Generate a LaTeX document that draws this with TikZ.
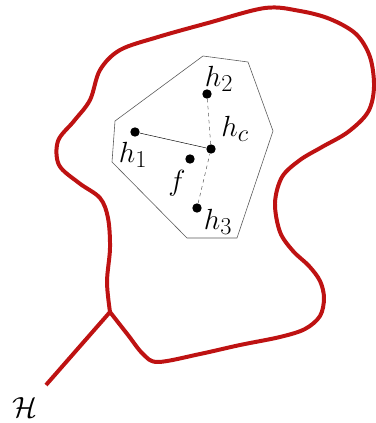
\documentclass[tikz,border=0pt]{standalone}
\usepackage{amsmath,amssymb}
\usetikzlibrary{positioning,calc}
\definecolor{hypRed}{RGB}{190,18,18}
\begin{document}
\begin{tikzpicture}[x=0.03cm,y=-0.03cm]
        \useasboundingbox (0,0) rectangle (376,423);
        \tikzset{pt/.style={circle,fill=black,inner sep=0pt,minimum size=8pt},
          lab/.style={font=\Huge,inner sep=0pt}}
        % Hypothesis space
        \coordinate (j) at (110,312);
        \coordinate (t) at (46,385);
        \draw[hypRed,line width=3.4pt,line join=round] plot[smooth,tension=0.55] coordinates {
          (110,312) (128,335) (143,354) (158,362) (200,354) (240,345) (280,337)
          (305,329) (320,316) (324,298) (320,281) (309,266) (293,251) (280,232)
          (275,203) (282,177) (300,160) (322,147) (348,132) (368,112) (374,87)
          (370,57) (356,34) (330,19) (300,11) (265,8) (208,23) (158,37) (120,50)
          (100,70) (90,100) (74,121) (58,141) (59,165) (79,183) (100,198) (108,218)
          (110,248) (107,282) (110,312)};
        \draw[hypRed,line width=3.4pt] (j) -- (t);
        \node[lab] (H) at (25,408) {$\mathcal{H}$};
        % Convex hull
        \draw[gray!70!black,line width=0.5pt] (203,56) -- (248,62) -- (273,131) -- (237,238)
          -- (187,238) -- (112,162) -- (115,121) -- cycle;
        % Points
        \node[pt] (h1) at (135,132) {};
        \node[pt] (h2) at (207,94) {};
        \node[pt] (h3) at (197,208) {};
        \node[pt] (hc) at (211,149) {};
        \node[pt] (f) at (190,159) {};
        \node[lab] at (219,79) {$h_2$};
        \node[lab] at (235,129) {$h_c$};
        \node[lab] at (133,155) {$h_1$};
        \node[lab] at (177,183) {$f$};
        \node[lab] at (218,222) {$h_3$};
        % Links to centre
        \draw[thin] (h1) -- (hc);
        \draw[thin,dashed,gray!60!black] (h2) -- (hc);
        \draw[thin,dashed,gray!60!black] (h3) -- (hc);
      \end{tikzpicture}
\end{document}
